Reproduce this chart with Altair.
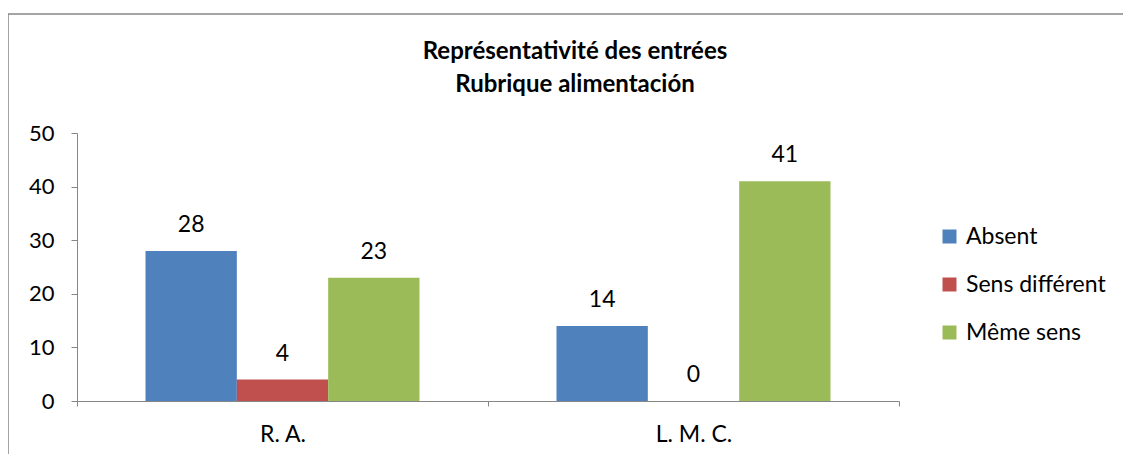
import altair as alt
import pandas as pd

categories = ["R. A.", "L. M. C."]
series = ["Absent", "Sens différent", "Même sens"]
absent = [28, 14]
sens_different = [4, 0]
meme_sens = [23, 41]
colors = ["#4F81BD", "#C0504D", "#9BBB59"]
y_ticks = [0, 10, 20, 30, 40, 50]
title_lines = ["Représentativité des entrées", "Rubrique alimentación"]

rows = []
for s, vals in zip(series, [absent, sens_different, meme_sens]):
    for c, v in zip(categories, vals):
        rows.append({"cat": c, "series": s, "value": v})
df = pd.DataFrame(rows)

FONT = "Lato"

x_enc = alt.X(
    "cat:N",
    sort=categories,
    scale=alt.Scale(paddingInner=0, paddingOuter=0),
    axis=alt.Axis(
        title=None, labelAngle=0, labelFontSize=23, labelFont=FONT, labelColor="#000000",
        domainColor="#868686", tickColor="#868686", tickSize=5, tickBand="extent",
        labelPadding=17,
    ),
)
xoff_enc = alt.XOffset(
    "series:N", sort=series, scale=alt.Scale(paddingOuter=0.75, paddingInner=0)
)
y_enc = alt.Y(
    "value:Q",
    scale=alt.Scale(domain=[0, 50], nice=False),
    axis=alt.Axis(
        title=None, values=y_ticks, grid=False, labelFontSize=22, labelFont=FONT,
        labelColor="#000000", domainColor="#868686", tickColor="#868686", tickSize=6,
        labelPadding=17,
    ),
)

bars = alt.Chart(df).mark_bar().encode(
    x=x_enc,
    xOffset=xoff_enc,
    y=y_enc,
    color=alt.Color(
        "series:N",
        sort=series,
        scale=alt.Scale(domain=series, range=colors),
        legend=alt.Legend(
            title=None, orient="none", legendX=861, legendY=92,
            symbolType="square", symbolSize=196, symbolStrokeWidth=0,
            labelFontSize=23, labelFont=FONT, labelColor="#000000",
            rowPadding=24, labelOffset=5,
        ),
    ),
)

labels = alt.Chart(df).mark_text(
    dy=-19, baseline="alphabetic", fontSize=23, font=FONT, color="#000000"
).encode(
    x=alt.X("cat:N", sort=categories),
    xOffset=alt.XOffset("series:N", sort=series),
    y=alt.Y("value:Q"),
    text=alt.Text("value:Q"),
)

title = alt.Chart(pd.DataFrame({"t": [0]})).mark_text(
    text=title_lines, fontSize=24, font=FONT, fontWeight="bold", color="#000000",
    lineHeight=33, baseline="middle", align="center",
).encode(x=alt.value(498), y=alt.value(-81))

border = alt.Chart(pd.DataFrame({"a": [0]})).mark_rect(
    filled=False, stroke="#868686", strokeWidth=1.5
).encode(
    x=alt.value(-69), x2=alt.value(3000), y=alt.value(-119), y2=alt.value(3000)
)

chart = alt.layer(border, title, bars, labels).properties(
    width=822,
    height=268,
    autosize="none",
    padding={"left": 69, "top": 125, "right": 224, "bottom": 53},
).configure_view(strokeWidth=0)

chart.save("out.html", embed_options={"renderer": "svg", "actions": False})
